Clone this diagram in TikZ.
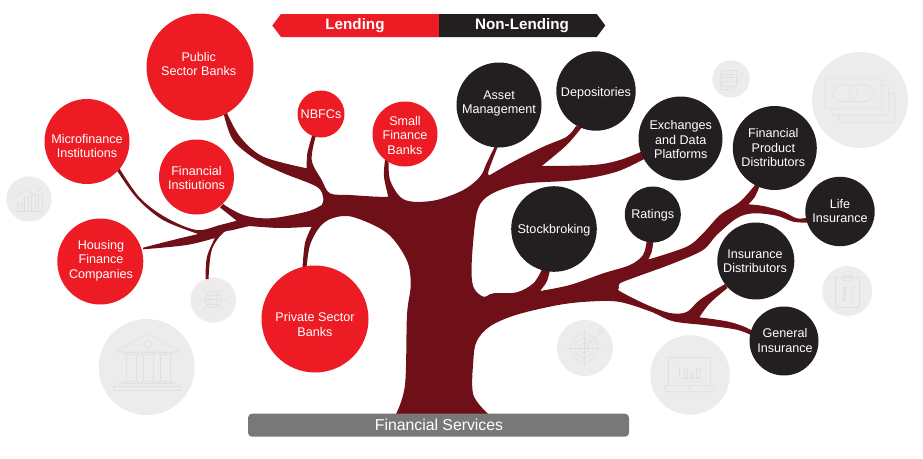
\documentclass[tikz,border=0pt]{standalone}
\usepackage{fontspec}
\setmainfont{Liberation Sans}
\definecolor{cred}{HTML}{ED1C24}
\definecolor{cblack}{HTML}{231F20}
\definecolor{ctree}{HTML}{6F0F17}
\definecolor{cbar}{HTML}{787878}
\definecolor{cghost}{HTML}{ECECEC}
\definecolor{cicon}{HTML}{E0E0E0}
\tikzset{
  bub/.style={circle,inner sep=0pt,minimum size=#1*2pt},
  redb/.style={bub=#1,fill=cred},
  blkb/.style={bub=#1,fill=cblack},
  ghost/.style={bub=#1,fill=cghost},
  lbl/.style={text=white,align=center,inner sep=0pt,yshift=-0.8pt,font=\fontsize{12.6}{14.5}\selectfont},
  icon/.style={draw=cicon,line width=0.6pt,fill=none},
  sm/.style={smooth,tension=0.55}
}
\begin{document}
\begin{tikzpicture}[x=1pt,y=-1pt]
\useasboundingbox (0,0) rectangle (923,458);
% ghost circles
\node[ghost=22.7] (gchart) at (29,199) {};
\node[ghost=22.7] (gglobe) at (213.3,300) {};
\node[ghost=48] (gbank) at (146.7,367) {};
\node[ghost=28] (gtarget) at (585,348) {};
\node[ghost=39.8] (glaptop) at (690,375) {};
\node[ghost=25] (gclip) at (847.3,291) {};
\node[ghost=48] (gmoney) at (860,100) {};
\node[ghost=18.7] (gdoc) at (731,79) {};
% icons
% chart
\draw[icon] (15,211.7)--(43,211.7);
\foreach \x/\t in {17/203,24/197,31/195,38/194}{\draw[icon] (\x,211.7) rectangle (\x+4,\t);}
\draw[icon] (15,198)--(25,189)--(33.5,195)--(42.7,187);
% globe
\draw[icon] (213.3,299.7) circle (8.5) ellipse (4 and 8.5);
\draw[icon] (204.8,299.7)--(221.8,299.7) (206,295)--(220.6,295) (206,304.4)--(220.6,304.4);
\foreach \a in {0,45,...,315}{\draw[icon] (213.3,299.7) ++(\a:11)--++(\a:3);}
% bank
\draw[icon] (116,352)--(147.7,333.3)--(180,352)--cycle;
\draw[icon] (147.7,344) circle (4);
\foreach \x in {126,143.3,160}{\draw[icon] (\x,354.7) rectangle (\x+10,381.3);\draw[icon] (\x-2,352) rectangle (\x+12,354.7);\draw[icon] (\x-2,381.3) rectangle (\x+12,383);}
\draw[icon] (119.3,383) rectangle (175,386.7);
\draw[icon] (113.3,386.7) rectangle (180,390.7);
% target
\draw[icon] (584,348) circle (14) circle (9.5) circle (5);
\draw[icon] (566,348)--(602,348) (584,330)--(584,366);
\draw[icon] (584,348)--(600,333);
\draw[icon] (601.5,331.5) circle (2);
% laptop
\draw[icon] (668.3,385.3)--(668.3,357.3)--(710.7,357.3)--(710.7,385.3);
\draw[icon,rounded corners=1.5pt] (664.3,385.3) rectangle (715,391.7);
\draw[icon] (689.5,388.5) circle (1);
\draw[icon] (684.3,377) rectangle (687.7,369.7) (690,377) rectangle (693.3,372) (696,377) rectangle (700,368);
\draw[icon] (681.7,378)--(700.7,378) (679,366)--(679,378);
\draw[icon,densely dotted] (685,381)--(698,381);
% clipboard
\draw[icon] (835.7,277.3) rectangle (859,307.3);
\draw[icon] (843.3,275.3) rectangle (851.7,280.7);
\foreach \y in {288.7,293.7,298.7}{\draw[icon] (843,\y-1.3) rectangle (845.6,\y+1.3);\draw[icon] (849,\y)--(851,\y+1.5)--(854,\y-2);}
% money
\draw[icon,rounded corners=1.5pt] (825,78.3) rectangle (881.7,108.3);
\draw[icon,rounded corners=1.5pt] (881.7,85)--(888.3,85)--(888.3,115)--(832,115)--(832,108.3);
\draw[icon,rounded corners=1.5pt] (888.3,93)--(895,93)--(895,122.3)--(839,122.3)--(839,115);
\draw[icon] (832,93.3)--(838,85)--(869,85)--(875,93.3)--(869,101.5)--(838,101.5)--cycle;
\draw[icon] (853.3,93.3) ellipse (4 and 6);
% doc
\draw[icon] (722,70) rectangle (736.7,86) (720,73) -- (720,89) -- (733,89);
\draw[icon] (725,74)--(734,74) (725,77.5)--(734,77.5) (725,81)--(731,81);
\draw[icon] (743.3,71.7)--(736,84);
% tree
\fill[ctree]
 plot[sm] coordinates {(396,414)(405,385)(407,315)(410.7,285)(406.7,260)(387,233)(353,217)(333,218)(320,226.7)(310,245)(306.5,268)}
 -- plot[sm] coordinates {(302.5,268)(305,243)(311.7,226.7)}
 -- plot[sm] coordinates {(311.7,226.7)(280,228)(249.3,226)}
 -- plot[sm] coordinates {(249.3,226)(233,230)(223,233)(211.7,250)(208.5,279)}
 -- plot[sm] coordinates {(205.5,279)(207,256.7)(215,238)}
 -- plot[sm] coordinates {(215,238)(186.7,245)(143,249.3)}
 -- plot[sm] coordinates {(143,247.7)(173,240)(198.3,234)}
 -- plot[sm] coordinates {(198.3,234)(163,220)(136.7,198)(117,170.5)}
 -- plot[sm] coordinates {(119.5,168.5)(140,198)(166.7,218)(196.7,230)(220,225)(236.7,220.7)}
 -- plot[sm] coordinates {(236.7,220.7)(220,207.5)}
 -- plot[sm] coordinates {(223,204)(243.3,215)(270,218.3)(306.7,211.7)(321.7,205)}
 -- plot[sm] coordinates {(321.7,205)(323.3,198.3)(316.7,186.7)(283,173)(256.7,160)(233,140)(223.5,113)}
 -- plot[sm] coordinates {(226.5,112)(240,136.7)(263.3,156.7)(306.7,168.3)}
 -- plot[sm] coordinates {(306.7,168.3)(307.3,153.3)(312.3,135)}
 -- plot[sm] coordinates {(316,135)(311.7,160)(321.7,180)(330,193.3)(350,195)(376.7,196.7)(388.3,196.7)}
 -- plot[sm] coordinates {(388.3,196.7)(384,176.7)(385,160)}
 -- plot[sm] coordinates {(388.5,160)(390,180)(400,196.7)(413,201.7)(436.7,200)(463.3,190)(480,176.7)(486.7,163)(495,146)}
 -- plot[sm] coordinates {(498,146)(488.3,171.7)(490,175)}
 -- plot[sm] coordinates {(490,175)(513.3,161.7)(543.3,146.7)(566.7,136.7)(576,126)}
 -- plot[sm] coordinates {(582,127)(566.7,145)(541.7,166)}
 -- plot[sm] coordinates {(541.7,166)(593.3,165)(620,160)(643,151)}
 -- plot[sm] coordinates {(646,158)(616.7,171.7)(576.7,180)(526.7,183.3)(500,190)(483.3,200)(476,216.7)(471.7,263)(473.3,286.7)(483.3,296.7)(493.3,293.3)(516.7,292.3)(533.3,283.3)(541.7,270)}
 -- plot[sm] coordinates {(550,270)(546.7,281.7)(540,291)}
 -- plot[sm] coordinates {(540,291)(570,285)(603.3,273.3)(630,265)(643,255)(646.7,241)}
 -- plot[sm] coordinates {(653.5,241)(651.7,251.7)(648.3,259.5)}
 -- plot[sm] coordinates {(648.3,259.5)(686.7,246.7)(703.3,233)(720,215)(740,201.7)(755,185)}
 -- plot[sm] coordinates {(760,185)(755,196.7)(748.3,204.3)}
 -- plot[sm] coordinates {(748.3,204.3)(763.3,206)(783.3,211.7)(796.7,218.3)(808,217.7)}
 -- plot[sm] coordinates {(808,222.7)(793.3,221.7)(776.7,215.7)(753.3,213.3)(736.7,218.3)(716.7,235)(703,250)(673.3,263.3)(636.7,276.7)(620,283.3)(619,288)(620,291.3)(646.7,304.7)(670,313)(686.7,312)(700,299.7)(725,284)}
 -- plot[sm] coordinates {(727.5,288)(710,303)(699.3,317.3)}
 -- plot[sm] coordinates {(699.3,317.3)(726.7,321.3)(743.3,326.3)(753,331)}
 -- plot[sm] coordinates {(752,335.5)(736.7,329.7)(706.7,325.3)(673.3,321.3)(650,311.3)(620,302)(593.3,301.3)(560,304.7)(516.7,314.7)(490,326.3)(476.7,341.3)(473.3,361)(473.3,394.7)(488.3,414)}
 -- cycle;
% banner
\fill[cred] (439,14)--(281,14)--(272.3,25.5)--(281,37)--(439,37)--cycle;
\fill[cblack] (439,14)--(596.7,14)--(605.3,25.5)--(596.7,37)--(439,37)--cycle;
\node[text=white,inner sep=0pt,font=\fontsize{15.2}{18}\selectfont\bfseries] (lend) at (355,25.5) {Lending};
\node[text=white,inner sep=0pt,font=\fontsize{15.2}{18}\selectfont\bfseries] (nonlend) at (522,25.5) {Non-Lending};
% base bar
\fill[cbar,rounded corners=4pt] (248,413.7) rectangle (629,436.7);
\node[text=white,inner sep=0pt,font=\fontsize{15.8}{18}\selectfont] (fs) at (439,425) {Financial Services};
% red circles
\node[redb=53.5] (pub) at (200,67) {};
\node[redb=42.5] (micro) at (87,141.5) {};
\node[redb=37.5] (fin) at (196.5,177) {};
\node[redb=23.5] (nbfc) at (321,114) {};
\node[redb=32.5] (small) at (405,134) {};
\node[redb=43] (hous) at (100.3,261.5) {};
\node[redb=53.5] (priv) at (315,319) {};
% black circles
\node[blkb=42.5] (asset) at (499,105) {};
\node[blkb=39.7] (dep) at (596,91) {};
\node[blkb=42] (exch) at (680.5,138.5) {};
\node[blkb=42] (prod) at (774.8,148) {};
\node[blkb=34.7] (life) at (840,211.5) {};
\node[blkb=42.8] (stock) at (554,229) {};
\node[blkb=28] (rat) at (652.8,214.5) {};
\node[blkb=38.5] (insd) at (755.8,261) {};
\node[blkb=34.5] (gen) at (784,341) {};
% labels
\node[lbl] (tpub) at (198.7,63.2) {Public\\Sector Banks};
\node[lbl] (tmicro) at (87,145.3) {Microfinance\\Institutions};
\node[lbl] (tfin) at (196.5,177) {Financial\\Instiutions};
\node[lbl] (tnbfc) at (321,113.3) {NBFCs};
\node[lbl] (tsmall) at (405,134.3) {Small\\Finance\\Banks};
\node[lbl] (thous) at (101,259.5) {Housing\\Finance\\Companies};
\node[lbl] (tpriv) at (315,323.5) {Private Sector\\Banks};
\node[lbl] (tasset) at (499,102.5) {Asset\\Management};
\node[lbl] (tdep) at (596,92.7) {Depositories};
\node[lbl] (texch) at (680.7,139) {Exchanges\\and Data\\Platforms};
\node[lbl] (tprod) at (773.3,146.7) {Financial\\Product\\Distributors};
\node[lbl] (tlife) at (840,210) {Life\\Insurance};
\node[lbl] (tstock) at (554,229.3) {Stockbroking};
\node[lbl] (trat) at (652.7,214.3) {Ratings};
\node[lbl] (tinsd) at (755,260.5) {Insurance\\Distributors};
\node[lbl] (tgen) at (785,339.7) {General\\Insurance};
\end{tikzpicture}
\end{document}
